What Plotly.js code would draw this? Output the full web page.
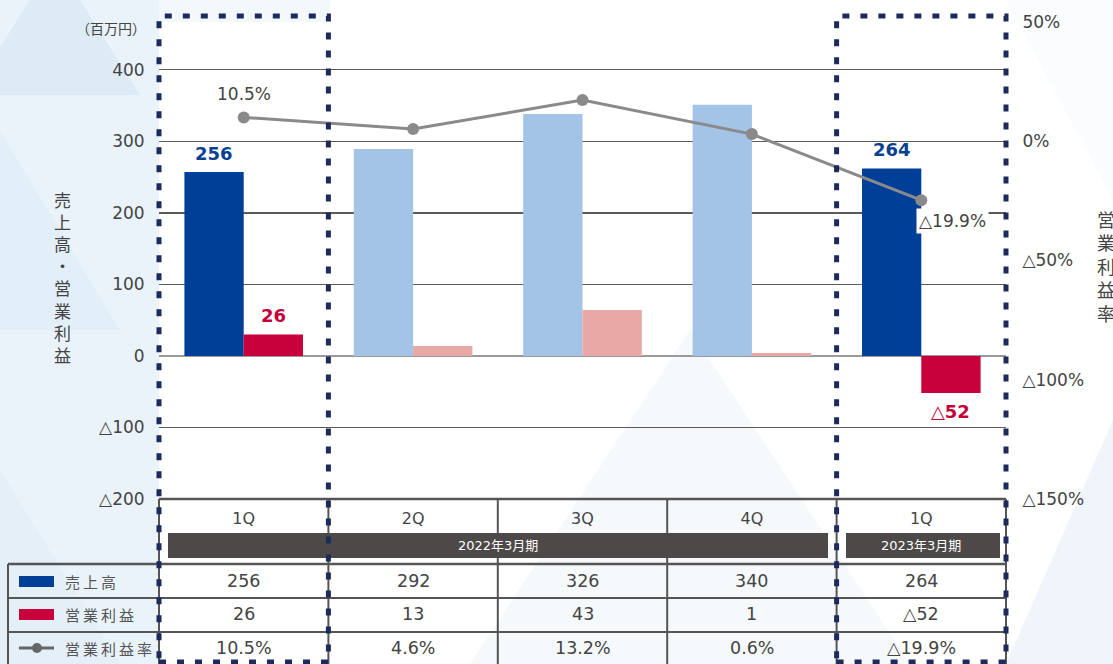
<!DOCTYPE html>
<html><head><meta charset="utf-8">
<script src="https://cdn.plot.ly/plotly-3.0.1.min.js"></script>
<style>html,body{margin:0;padding:0;background:#fff}#chart{width:1113px;height:664px}</style>
</head><body><div id="chart"></div>
<script>
// ---- data ----
const cats = ["FY22-1Q", "FY22-2Q", "FY22-3Q", "FY22-4Q", "FY23-1Q"];
const quarterLabels = ["1Q", "2Q", "3Q", "4Q", "1Q"];
const fyLabels = ["2022年3月期", "2023年3月期"];
const sales = [257, 289, 338, 351, 262];          // bar heights
const profit = [30, 14, 64, 4, -52];
const profitRate = [10, 5.1, 17.3, 3, -24.7];      // line points
const salesText = ["256", "292", "326", "340", "264"];
const profitText = ["26", "13", "43", "1", "△52"];
const rateText = ["10.5%", "4.6%", "13.2%", "0.6%", "△19.9%"];
const rowLabels = ["売上高", "営業利益", "営業利益率"];
const leftTicks = [400, 300, 200, 100, 0, -100, -200];
const leftTickText = ["400", "300", "200", "100", "0", "△100", "△200"];
const rightTicks = [50, 0, -50, -100, -150];
const rightTickText = ["50%", "0%", "△50%", "△100%", "△150%"];
const unitLabel = "（百万円）";
const leftTitle = "売上高・営業利益";
const rightTitle = "営業利益率";

// ---- style ----
const JP = "'Noto Sans CJK JP', 'Noto Sans', sans-serif";
const NUM = "'DejaVu Sans', 'Noto Sans CJK JP', sans-serif";
const TXT = "#444";
const highlight = [0, 4];
const DARK_BLUE = "#003f98", LIGHT_BLUE = "#a3c3e7";
const RED = "#c8003c", LIGHT_RED = "#e8a9a6";
const NAVY = "#1d2a5c";

// geometry (pixels)
const L = 159, R = 1006, T = 22, B = 499;
const px = x => (x - L) / (R - L);
const py = y => (B - y) / (B - T);

const salesColors = cats.map((c, i) => highlight.includes(i) ? DARK_BLUE : LIGHT_BLUE);
const profitColors = cats.map((c, i) => highlight.includes(i) ? RED : LIGHT_RED);

const traces = [
  {type: "bar", x: cats, y: sales, name: rowLabels[0], marker: {color: salesColors}, hoverinfo: "skip"},
  {type: "bar", x: cats, y: profit, name: rowLabels[1], marker: {color: profitColors}, hoverinfo: "skip"},
  {type: "scatter", mode: "lines+markers", x: cats, y: profitRate, yaxis: "y2", name: rowLabels[2],
   line: {color: "#8a8a8a", width: 3}, marker: {color: "#8a8a8a", size: 12}, hoverinfo: "skip"}
];

const shapes = [];
const annotations = [];
function note(o) {
  annotations.push(Object.assign({showarrow: false, xanchor: "center", yanchor: "middle"}, o));
}

// background decoration
function poly(pts, color) {
  shapes.push({type: "path", xref: "paper", yref: "paper", layer: "below", line: {width: 0}, fillcolor: color,
    path: "M" + pts.map(p => px(p[0]) + "," + py(p[1])).join(" L") + " Z"});
}
poly([[0, 0], [159, 0], [159, 664], [0, 664]], "#eaf3fa");
poly([[-30, 95], [140, 95], [55, -40]], "#dcebf6");
poly([[0, 330], [0, 130], [120, 330]], "#e3eff8");
poly([[0, 664], [0, 470], [120, 664]], "#e4eff8");
poly([[159, 0], [330, 0], [330, 22], [159, 22]], "#f3f8fc");
poly([[470, 664], [690, 330], [910, 664]], "#f6f9fc");
poly([[1006, 664], [1113, 420], [1113, 664]], "#eff5fa");
poly([[1006, 0], [1113, 0], [1113, 200]], "#fafcfe");

// table lines
function hline(y, x0, x1, w, c) {
  shapes.push({type: "line", xref: "paper", yref: "paper", x0: px(x0), x1: px(x1), y0: py(y), y1: py(y),
    line: {color: c || "#555", width: w || 2}});
}
function vline(x, y0, y1, w, c) {
  shapes.push({type: "line", xref: "paper", yref: "paper", x0: px(x), x1: px(x), y0: py(y0), y1: py(y1),
    line: {color: c || "#555", width: w || 2}});
}
const colW = (R - L) / cats.length;
for (let k = 0; k <= cats.length; k++) vline(L + k * colW, B, 670, 2);
vline(8, 564, 670, 2);
hline(B, L, R, 2.5, "#555");
hline(564, 8, R, 2.5);
hline(598, 8, R, 2);
hline(632, 8, R, 2);

// fiscal year bands
shapes.push({type: "rect", xref: "paper", yref: "paper", x0: px(168), x1: px(828), y0: py(533), y1: py(558),
  fillcolor: "#4d4948", line: {width: 0}});
shapes.push({type: "rect", xref: "paper", yref: "paper", x0: px(846), x1: px(1000), y0: py(533), y1: py(558),
  fillcolor: "#4d4948", line: {width: 0}});
note({xref: "x", yref: "paper", x: 1.5, y: py(545.5), text: fyLabels[0], font: {family: NUM, size: 13, color: "#fff"}});
note({xref: "x", yref: "paper", x: 4, y: py(545.5), text: fyLabels[1], font: {family: NUM, size: 13, color: "#fff"}});

// legend column
shapes.push({type: "rect", xref: "paper", yref: "paper", x0: px(19), x1: px(54), y0: py(576), y1: py(587),
  fillcolor: DARK_BLUE, line: {width: 0}});
shapes.push({type: "rect", xref: "paper", yref: "paper", x0: px(19), x1: px(54), y0: py(609), y1: py(620),
  fillcolor: RED, line: {width: 0}});
hline(648, 19, 54, 3, "#666");
shapes.push({type: "circle", xref: "paper", yref: "paper", x0: px(32), x1: px(42), y0: py(643), y1: py(653),
  fillcolor: "#666", line: {width: 0}});
const rowY = [581, 614, 648];
rowLabels.forEach((lab, r) => {
  note({xref: "paper", yref: "paper", x: px(63), y: py(rowY[r]), xanchor: "left", text: lab.split("").join("\u2009"),
    font: {family: JP, size: 15, color: "#555"}});
});

// table values
[salesText, profitText, rateText].forEach((arr, r) => {
  arr.forEach((t, i) => {
    note({xref: "x", yref: "paper", x: cats[i], y: py(rowY[r]), text: t, font: {family: NUM, size: 17.5, color: TXT}});
  });
});

// dashed highlight boxes
highlight.forEach(i => {
  shapes.push({type: "rect", xref: "paper", yref: "paper", x0: px(L + i * colW), x1: px(L + (i + 1) * colW),
    y0: py(662), y1: py(16), line: {color: NAVY, width: 5, dash: "7px,11px"}, fillcolor: "rgba(0,0,0,0)"});
});

// bar value labels for highlighted periods
const off = colW * 0.7 / 4;
highlight.forEach(i => {
  note({xref: "x", yref: "y", x: cats[i], y: sales[i], xshift: -off, yanchor: "bottom", yshift: 6,
    text: "<b>" + salesText[i] + "</b>", font: {family: NUM, size: 18, color: "#0a3f93"}});
  const neg = profit[i] < 0;
  note({xref: "x", yref: "y", x: cats[i], y: profit[i], xshift: off, yanchor: neg ? "top" : "bottom",
    yshift: neg ? -6 : 6, text: profitText[i].replace(/([0-9.]+)/, "<b>$1</b>"),
    font: {family: NUM, size: 18, color: "#c4003a"}});
});
// rate labels
note({xref: "x", yref: "y2", x: cats[0], y: profitRate[0], yanchor: "bottom", yshift: 11,
  text: rateText[0], font: {family: NUM, size: 17, color: TXT}});
note({xref: "x", yref: "y2", x: cats[4], y: profitRate[4], xanchor: "left", xshift: -5, yanchor: "top", yshift: -8,
  text: rateText[4], bgcolor: "#fff", borderpad: 2, font: {family: NUM, size: 17, color: TXT}});

// unit label and axis titles (vertical, one character per line)
note({xref: "paper", yref: "paper", x: px(148), y: py(28), xanchor: "right", text: unitLabel,
  font: {family: JP, size: 14, color: TXT}});
note({xref: "paper", yref: "paper", x: px(62), y: py(197), yanchor: "top", yshift: 11, borderpad: 0,
  text: leftTitle.split("").join("<br>"), font: {family: JP, size: 17, color: TXT}});
note({xref: "paper", yref: "paper", x: px(1106), y: py(217), yanchor: "top", yshift: 12, borderpad: 0,
  text: rightTitle.split("").join("<br>"), font: {family: JP, size: 18, color: TXT}});

const layout = {
  width: 1113, height: 664,
  margin: {l: L, r: 1113 - R, t: T, b: 664 - B, pad: 0},
  paper_bgcolor: "#ffffff", plot_bgcolor: "rgba(0,0,0,0)",
  showlegend: false, barmode: "group", bargap: 0.3, bargroupgap: 0,
  font: {family: NUM, color: TXT},
  xaxis: {type: "category", range: [-0.5, 4.5], tickmode: "array", tickvals: cats, ticktext: quarterLabels,
    showgrid: false, zeroline: false, showline: false, ticks: "outside", ticklen: 5, tickcolor: "rgba(0,0,0,0)",
    tickfont: {family: NUM, size: 16, color: TXT}, fixedrange: true},
  yaxis: {range: [-200, 466.67], tickmode: "array", tickvals: leftTicks, ticktext: leftTickText,
    showgrid: true, gridcolor: "#5b5b5b", gridwidth: 1.5, zeroline: true, zerolinecolor: "#9a9a9a", zerolinewidth: 2,
    showline: false, ticks: "outside", ticklen: 10, tickcolor: "rgba(0,0,0,0)",
    tickfont: {family: NUM, size: 17, color: TXT}, fixedrange: true},
  yaxis2: {range: [-150, 50], overlaying: "y", side: "right", tickmode: "array", tickvals: rightTicks, ticktext: rightTickText,
    showgrid: false, zeroline: false, showline: false, ticks: "outside", ticklen: 12, tickcolor: "rgba(0,0,0,0)",
    tickfont: {family: NUM, size: 17, color: TXT}, fixedrange: true},
  shapes: shapes,
  annotations: annotations
};

Plotly.newPlot("chart", traces, layout, {staticPlot: true, displayModeBar: false});
</script></body></html>
